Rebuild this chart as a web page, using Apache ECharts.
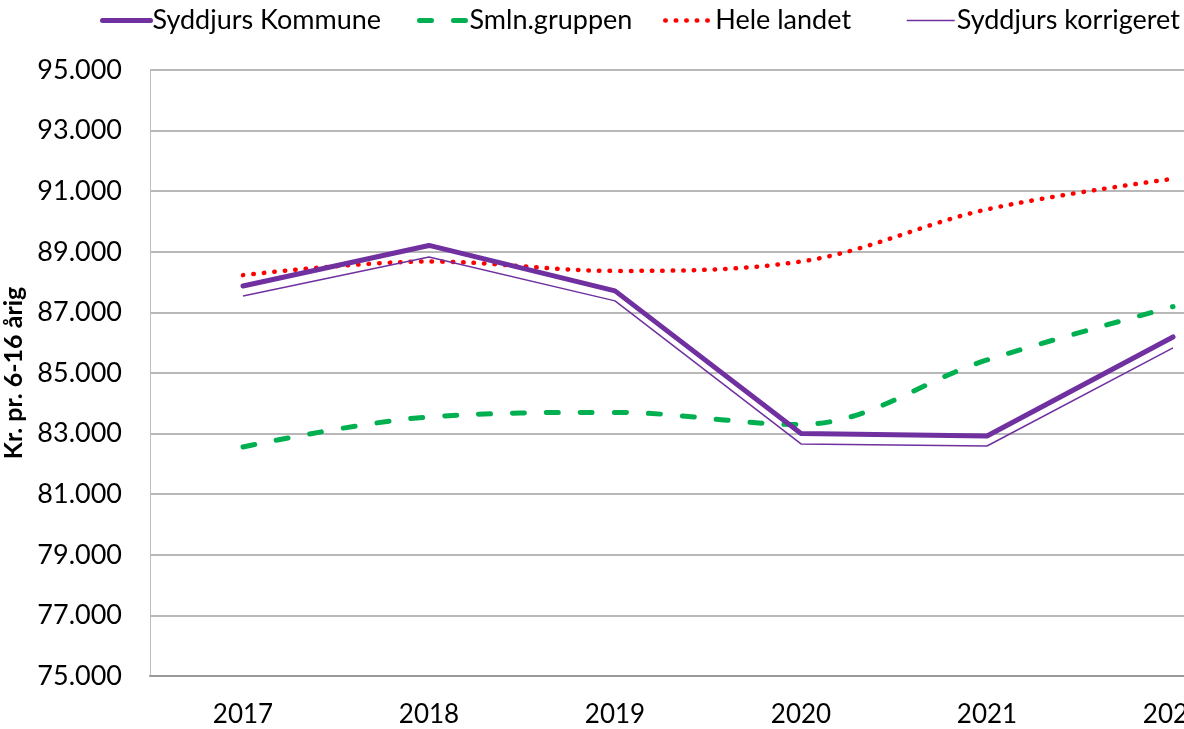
<!DOCTYPE html>
<html><head><meta charset="utf-8">
<script src="https://cdn.jsdelivr.net/npm/echarts@6/dist/echarts.min.js"></script>
<style>html,body{margin:0;padding:0;background:#fff}#c{width:1184px;height:729px}</style>
</head><body><div id="c"></div>
<script>
const categories = ['2017','2018','2019','2020','2021','2022'];
const syddjurs = [87870, 89210, 87710, 83000, 82920, 86190];
const smln = [82560, 83550, 83700, 83300, 85430, 87190];
const heleLandet = [88230, 88680, 88370, 88680, 90400, 91410];
const korrigeret = [87540, 88830, 87380, 82660, 82590, 85830];
const seriesNames = ['Syddjurs Kommune','Smln.gruppen','Hele landet','Syddjurs korrigeret'];
const yTicks = {min: 75000, max: 95000, interval: 2000};

const font = 'Lato, "Noto Sans", sans-serif';
const styles = [
  {color: '#7030a0', width: 5, type: 'solid', cap: 'round', join: 'round'},
  {color: '#00b050', width: 5, type: [12, 22], cap: 'round'},
  {color: '#ff0000', width: 4.5, type: [0.5, 10], cap: 'round'},
  {color: '#7030a0', width: 1.5, type: 'solid', cap: 'butt'}
];
const legendLeft = [95, 412, 658, 901];
const legends = seriesNames.map((n, i) => ({
  left: legendLeft[i], top: 2,
  itemWidth: 48, itemHeight: 26, itemGap: 0,
  textStyle: {fontFamily: font, fontSize: 27, color: '#000', padding: [0,0,0,-3]},
  data: [{name: n,
    itemStyle: {color: 'rgba(0,0,0,0)', borderWidth: 0, opacity: 0},
    lineStyle: {width: styles[i].width, type: styles[i].type, cap: styles[i].cap, color: styles[i].color}}]
}));

const chart = echarts.init(document.getElementById('c'));
chart.setOption({
  animation: false,
  legend: legends,
  grid: {left: 150, top: 70, width: 1116, height: 606, containLabel: false, outerBoundsMode: 'none'},
  xAxis: {
    type: 'category', data: categories, boundaryGap: true,
    axisLine: {lineStyle: {color: '#999', width: 2}},
    axisTick: {show: false},
    axisLabel: {fontFamily: font, fontSize: 26, color: '#000', margin: 26}
  },
  yAxis: {
    type: 'value', min: yTicks.min, max: yTicks.max, interval: yTicks.interval,
    name: 'Kr. pr. 6-16 årig', nameLocation: 'middle', nameGap: 104, nameRotate: 90,
    nameTextStyle: {fontFamily: font, fontSize: 25, fontWeight: 'bold', color: '#000'},
    axisLine: {show: true, lineStyle: {color: '#bdbdbd', width: 1}},
    axisTick: {show: false},
    splitLine: {lineStyle: {color: '#a0a0a0', width: 1.5}},
    axisLabel: {fontFamily: font, fontSize: 27, color: '#000', margin: 28,
      formatter: v => (v/1000).toFixed(0) + '.000'}
  },
  series: [
    {name: seriesNames[0], type: 'line', data: syddjurs, showSymbol: false, symbol: 'none',
     lineStyle: styles[0], itemStyle: {color: styles[0].color}, z: 4},
    {name: seriesNames[1], type: 'line', data: smln, showSymbol: false, symbol: 'none', smooth: 0.35,
     lineStyle: styles[1], itemStyle: {color: styles[1].color}, z: 3},
    {name: seriesNames[2], type: 'line', data: heleLandet, showSymbol: false, symbol: 'none', smooth: 0.35,
     lineStyle: styles[2], itemStyle: {color: styles[2].color}, z: 2},
    {name: seriesNames[3], type: 'line', data: korrigeret, showSymbol: false, symbol: 'none',
     lineStyle: styles[3], itemStyle: {color: styles[3].color}, z: 5}
  ]
});
</script></body></html>
